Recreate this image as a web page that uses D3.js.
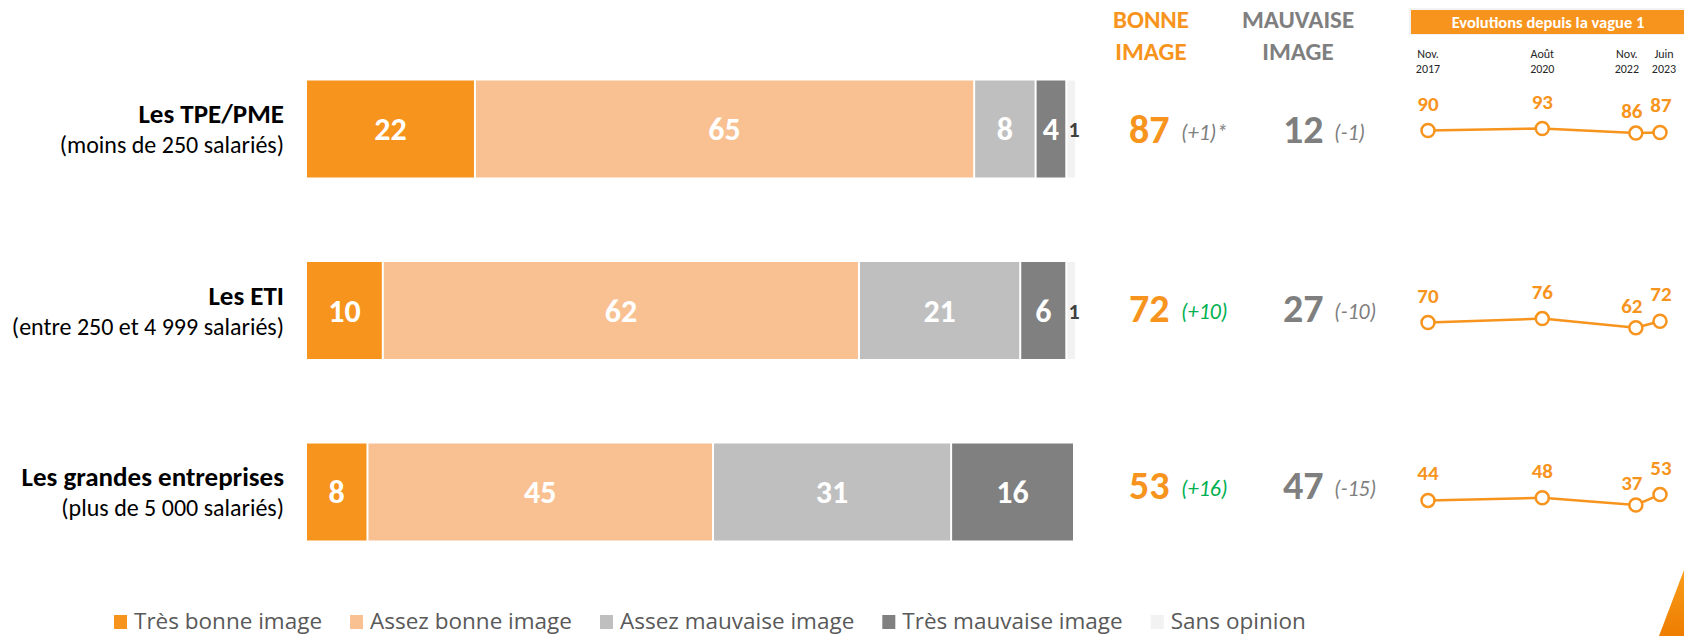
<!DOCTYPE html>
<html>
<head>
<meta charset="utf-8">
<script src="https://cdn.jsdelivr.net/npm/d3@7"></script>
<style>
  body { margin: 0; background: #fff; }
  svg { display: block; font-family: Carlito, Calibri, Lato, sans-serif; }
</style>
</head>
<body>
<svg id="chart" width="1684" height="636"></svg>
<script>
// data
var categories = ["Les TPE/PME", "Les ETI", "Les grandes entreprises"];
var subtitles = ["(moins de 250 salariés)", "(entre 250 et 4 999 salariés)", "(plus de 5 000 salariés)"];
var seriesNames = ["Très bonne image", "Assez bonne image", "Assez mauvaise image", "Très mauvaise image", "Sans opinion"];
var tresBonne = [22, 10, 8];
var assezBonne = [65, 62, 45];
var assezMauvaise = [8, 21, 31];
var tresMauvaise = [4, 6, 16];
var sansOpinion = [1, 1, 0];
var bonneTotal = [87, 72, 53];
var bonneEvol = ["(+1)*", "(+10)", "(+16)"];
var bonneSignif = [false, true, true];
var mauvaiseTotal = [12, 27, 47];
var mauvaiseEvol = ["(-1)", "(-10)", "(-15)"];
var waveLabels = [["Nov.", "2017"], ["Août", "2020"], ["Nov.", "2022"], ["Juin", "2023"]];
var waveDates = ["2017-11-01", "2020-08-01", "2022-11-01", "2023-06-01"];
var evolution = [[90, 93, 86, 87], [70, 76, 62, 72], [44, 48, 37, 53]];

var colors = ["#F7941D", "#F9C192", "#BFBFBF", "#808080", "#F2F2F2"];
var orange = "#F7941D", grey = "#7F7F7F", green = "#00B050";

var svg = d3.select("#chart");

var rowCenters = [129, 310.5, 492];
var totalsY = [143, 322, 499];
var barH = 97;
var sparkBase = [189, 368, 529];

var x = d3.scaleLinear().domain([0, 100]).range([307, 1075]);

var table = categories.map(function (c, i) {
  return { cat: c, k0: tresBonne[i], k1: assezBonne[i], k2: assezMauvaise[i], k3: tresMauvaise[i], k4: sansOpinion[i] };
});
var keys = ["k0", "k1", "k2", "k3", "k4"];
var stacked = d3.stack().keys(keys)(table);

// bars
stacked.forEach(function (layer, li) {
  var g = svg.append("g");
  layer.forEach(function (d, i) {
    var v = d[1] - d[0];
    if (v <= 0) return;
    var cy = rowCenters[i];
    g.append("rect")
      .attr("x", x(d[0]))
      .attr("y", cy - barH / 2)
      .attr("width", Math.max(0, x(d[1]) - x(d[0]) - (li < 4 ? 2 : 0)))
      .attr("height", barH)
      .attr("fill", colors[li]);
    var isSans = li === 4;
    g.append("text")
      .attr("x", isSans ? x(d[1]) - 1 : (x(d[0]) + x(d[1]) - 2) / 2)
      .attr("y", cy + (isSans ? 8 : 11))
      .attr("text-anchor", "middle")
      .attr("font-weight", "bold")
      .attr("font-size", isSans ? 22 : 32)
      .attr("fill", isSans ? "#404040" : "#fff")
      .text(v);
  });
});

// row labels
categories.forEach(function (c, i) {
  var cy = rowCenters[i];
  svg.append("text").attr("x", 284).attr("y", cy - 6)
    .attr("text-anchor", "end").attr("font-weight", "bold").attr("font-size", 27)
    .attr("fill", "#000").text(c);
  svg.append("text").attr("x", 284).attr("y", cy + 24)
    .attr("text-anchor", "end").attr("font-size", 24)
    .attr("fill", "#000").text(subtitles[i]);
});

// headers
[["BONNE", "IMAGE", 1151, orange], ["MAUVAISE", "IMAGE", 1298, grey]].forEach(function (h) {
  svg.append("text").attr("x", h[2]).attr("y", 28).attr("text-anchor", "middle")
    .attr("font-weight", "bold").attr("font-size", 25).attr("fill", h[3]).text(h[0]);
  svg.append("text").attr("x", h[2]).attr("y", 60).attr("text-anchor", "middle")
    .attr("font-weight", "bold").attr("font-size", 25).attr("fill", h[3]).text(h[1]);
});

// totals
categories.forEach(function (c, i) {
  var by = totalsY[i];
  svg.append("text").attr("x", 1129).attr("y", by).attr("font-weight", "bold")
    .attr("font-size", 40).attr("fill", orange).text(bonneTotal[i]);
  svg.append("text").attr("x", 1181).attr("y", by - 3).attr("font-style", "italic")
    .attr("font-size", 22).attr("fill", bonneSignif[i] ? green : grey).text(bonneEvol[i]);
  svg.append("text").attr("x", 1283).attr("y", by).attr("font-weight", "bold")
    .attr("font-size", 40).attr("fill", grey).text(mauvaiseTotal[i]);
  svg.append("text").attr("x", 1334).attr("y", by - 3).attr("font-style", "italic")
    .attr("font-size", 22).attr("fill", grey).text(mauvaiseEvol[i]);
});

// evolution banner
svg.append("rect").attr("x", 1409).attr("y", 8).attr("width", 280).attr("height", 27)
  .attr("fill", "#F3F3F3");
svg.append("rect").attr("x", 1411).attr("y", 10).attr("width", 280).attr("height", 24)
  .attr("fill", orange);
svg.append("text").attr("x", 1548).attr("y", 28).attr("text-anchor", "middle")
  .attr("font-weight", "bold").attr("font-size", 16.5).attr("fill", "#fff")
  .text("Evolutions depuis la vague 1");

var parse = d3.timeParse("%Y-%m-%d");
var dates = waveDates.map(parse);
var xt = d3.scaleTime().domain(d3.extent(dates)).range([1428, 1660]);
var labelShift = [0, 0, -9, 4];

waveLabels.forEach(function (w, j) {
  svg.append("text").attr("x", xt(dates[j]) + labelShift[j]).attr("y", 58)
    .attr("text-anchor", "middle").attr("font-size", 12).attr("fill", "#262626").text(w[0]);
  svg.append("text").attr("x", xt(dates[j]) + labelShift[j]).attr("y", 73)
    .attr("text-anchor", "middle").attr("font-size", 12).attr("fill", "#262626").text(w[1]);
});

// sparklines
evolution.forEach(function (vals, i) {
  var y = d3.scaleLinear().domain([0, 100]).range([sparkBase[i], sparkBase[i] - 65]);
  var pts = vals.map(function (v, j) { return { d: dates[j], v: v, j: j }; });
  var g = svg.append("g");
  g.append("path").datum(pts)
    .attr("fill", "none").attr("stroke", orange).attr("stroke-width", 2.5)
    .attr("d", d3.line().x(function (p) { return xt(p.d); }).y(function (p) { return y(p.v); }));
  g.selectAll("circle").data(pts).enter().append("circle")
    .attr("cx", function (p) { return xt(p.d); })
    .attr("cy", function (p) { return y(p.v); })
    .attr("r", 6.5).attr("fill", "#fff").attr("stroke", orange).attr("stroke-width", 2.5);
  g.selectAll("text").data(pts).enter().append("text")
    .attr("x", function (p) { return xt(p.d) + (p.j === 2 ? -4 : (p.j === 3 ? 1 : 0)); })
    .attr("y", function (p) { return y(p.v) - (p.j === 2 ? 15 : 20); })
    .attr("text-anchor", "middle").attr("font-weight", "bold").attr("font-size", 21)
    .attr("fill", orange).text(function (p) { return p.v; });
});

// legend
var lx = 114;
seriesNames.forEach(function (n, k) {
  svg.append("rect").attr("x", lx).attr("y", 615).attr("width", 13).attr("height", 14)
    .attr("fill", colors[k]);
  var t = svg.append("text").attr("x", lx + 20).attr("y", 629)
    .attr("font-family", "'Open Sans', sans-serif").attr("font-size", 22.5)
    .attr("fill", "#595959").text(n);
  lx = lx + 20 + t.node().getComputedTextLength() + 28;
});

// corner decoration
var grad = svg.append("defs").append("linearGradient").attr("id", "cg")
  .attr("x1", "0").attr("y1", "0").attr("x2", "0").attr("y2", "1");
grad.append("stop").attr("offset", "0").attr("stop-color", "#F99D1C");
grad.append("stop").attr("offset", "1").attr("stop-color", "#EE7D00");
svg.append("path").attr("d", "M1684,570 L1659,636 L1684,636 Z").attr("fill", "url(#cg)");
</script>
</body>
</html>
